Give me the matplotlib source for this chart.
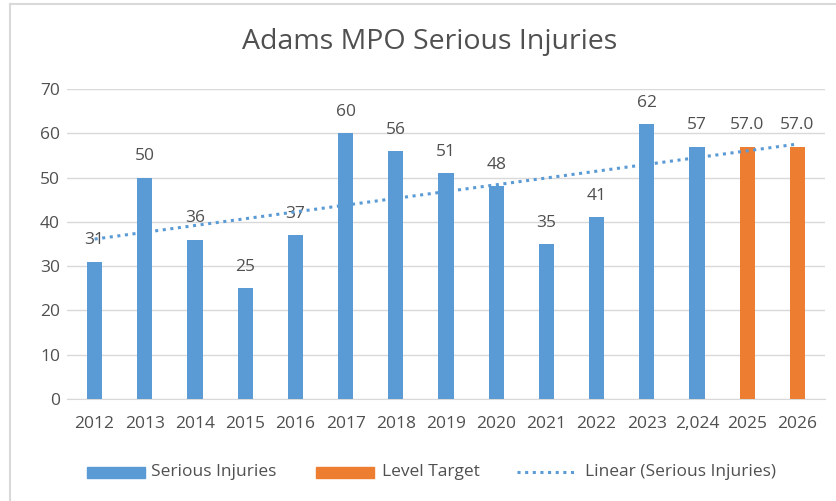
import numpy as np
import matplotlib
matplotlib.use('Agg')
from matplotlib import pyplot as plt
from matplotlib.lines import Line2D
from matplotlib.patches import Rectangle

years = ['2012', '2013', '2014', '2015', '2016', '2017', '2018', '2019',
         '2020', '2021', '2022', '2023', '2,024', '2025', '2026']
injuries = [31, 50, 36, 25, 37, 60, 56, 51, 48, 35, 41, 62, 57]
targets = [57.0, 57.0]

blue = '#5B9BD5'
orange = '#ED7D31'
txt = '#505050'
W, H = 836, 501

plt.rcParams['font.family'] = ['Open Sans', 'DejaVu Sans']

fig = plt.figure(figsize=(W / 100, H / 100), dpi=100)
ax = fig.add_axes([67 / W, 1 - 399 / H, (825 - 67) / W, (399 - 89) / H])

x_inj = np.arange(len(injuries))
x_tgt = np.arange(len(injuries), len(injuries) + len(targets))

ax.bar(x_inj, injuries, width=0.3, color=blue, zorder=3)
ax.bar(x_tgt, targets, width=0.3, color=orange, zorder=3)

for xi, v in zip(x_inj, injuries):
    ax.text(xi, v + 3, str(v), ha='center', va='bottom', fontsize=12.5, color=txt)
for xi, v in zip(x_tgt, targets):
    ax.text(xi, v + 3, f'{v:.1f}', ha='center', va='bottom', fontsize=12.5, color=txt)

# linear trendline over the injuries, forecast forward to 2026
slope, icpt = np.polyfit(x_inj, injuries, 1)
xt = np.arange(len(years))
dots = (0, (1, 1.5))
ax.plot(xt, slope * xt + icpt, color=blue, linestyle=dots, linewidth=2.2, zorder=4)

ax.set_xlim(-0.55, len(years) - 0.45)
ax.set_ylim(0, 70)
ax.set_yticks(range(0, 71, 10))
ax.set_xticks(xt)
ax.set_xticklabels(years)
ax.tick_params(axis='both', length=0, labelsize=12.5, colors=txt)
ax.tick_params(axis='x', pad=12)
ax.tick_params(axis='y', pad=5)
ax.grid(axis='y', color='#D9D9D9', linewidth=1, zorder=0)
for s in ['top', 'right', 'left']:
    ax.spines[s].set_visible(False)
ax.spines['bottom'].set_color('#D9D9D9')

fig.text(430 / W, 1 - 42 / H, 'Adams MPO Serious Injuries', ha='center', va='center',
         fontsize=20.5, color=txt)

# legend, placed by hand like the Excel one
ly = 1 - 472 / H
ph = 11 / H
fig.add_artist(Rectangle((87 / W, ly - ph / 2), 58 / W, ph, color=blue, transform=fig.transFigure))
fig.text(151 / W, ly, 'Serious Injuries', ha='left', va='center', fontsize=12.5, color=txt)
fig.add_artist(Rectangle((316 / W, ly - ph / 2), 58 / W, ph, color=orange, transform=fig.transFigure))
fig.text(382 / W, ly, 'Level Target', ha='left', va='center', fontsize=12.5, color=txt)
fig.add_artist(Line2D([517 / W, 576 / W], [ly, ly], color=blue, linestyle=dots, linewidth=2.2))
fig.text(585 / W, ly, 'Linear (Serious Injuries)', ha='left', va='center', fontsize=12.5, color=txt)

# chart border (top and left visible)
fig.add_artist(Line2D([10 / W, 10 / W], [0, 1 - 4 / H], color='#D9D9D9', linewidth=1.5))
fig.add_artist(Line2D([10 / W, 1], [1 - 4 / H, 1 - 4 / H], color='#D9D9D9', linewidth=1.5))

fig.savefig('out.png', dpi=100)
